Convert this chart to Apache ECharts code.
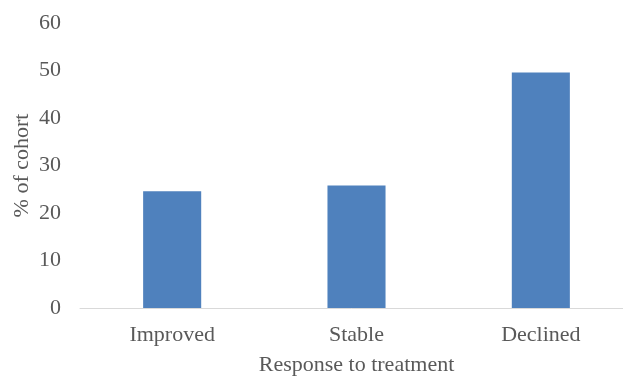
<!DOCTYPE html>
<html>
<head>
<meta charset="utf-8">
<script src="https://cdn.jsdelivr.net/npm/echarts@6/dist/echarts.min.js"></script>
<style>html,body{margin:0;padding:0;background:#fff}#c{width:623px;height:377px}</style>
</head>
<body>
<div id="c"></div>
<script>
const categories = ["Improved", "Stable", "Declined"];
const values = [24.6, 25.8, 49.6];
const yTicks = { min: 0, max: 60, interval: 10 };

const chart = echarts.init(document.getElementById('c'), null, { renderer: 'canvas' });
const font = '"Liberation Serif", "Times New Roman", serif';
chart.setOption({
  animation: false,
  grid: { left: 80, top: 23, right: -10, bottom: 69, containLabel: false, outerBoundsMode: 'none' },
  xAxis: {
    type: 'category',
    data: categories,
    name: 'Response to treatment',
    nameLocation: 'middle',
    nameGap: 46,
    nameMoveOverlap: false,
    nameTextStyle: { fontFamily: font, fontSize: 22, color: '#595959' },
    axisLine: { show: true, lineStyle: { color: '#D9D9D9', width: 1 } },
    axisTick: { show: false },
    axisLabel: { fontFamily: font, fontSize: 22, color: '#595959', margin: 16 }
  },
  yAxis: {
    type: 'value',
    min: yTicks.min, max: yTicks.max, interval: yTicks.interval,
    name: '% of cohort',
    nameLocation: 'middle',
    nameGap: 47,
    nameRotate: 90,
    nameMoveOverlap: false,
    nameTextStyle: { fontFamily: font, fontSize: 22, color: '#595959' },
    axisLine: { show: false },
    axisTick: { show: false },
    splitLine: { show: false },
    axisLabel: { fontFamily: font, fontSize: 22, color: '#595959', margin: 19 }
  },
  series: [{
    type: 'bar',
    data: values,
    barWidth: '31.5%',
    itemStyle: { color: '#4F81BD' }
  }]
});
</script>
</body>
</html>
